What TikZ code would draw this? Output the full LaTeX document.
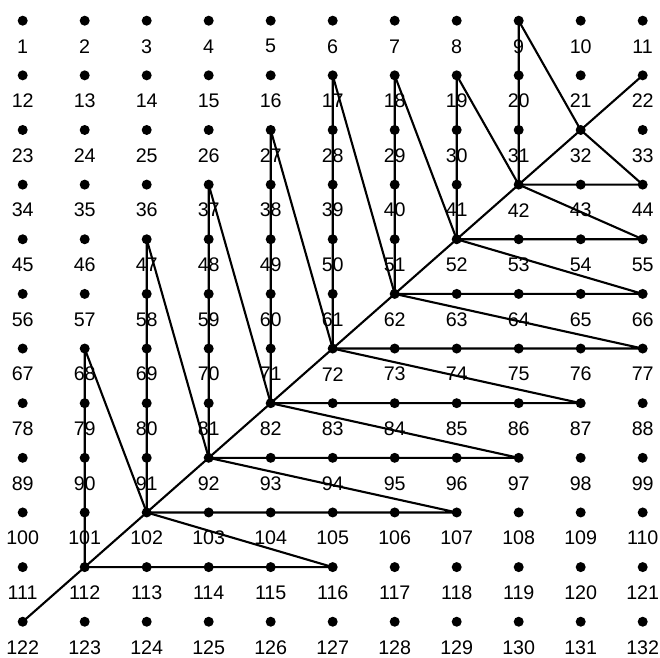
\documentclass[tikz,border=0pt]{standalone}
\usepackage{fontspec}
\setmainfont{Liberation Sans}
\usepackage{tikz}
\usetikzlibrary{positioning,calc}

\begin{document}
\begin{tikzpicture}[font=\fontsize{14}{16}\selectfont,
  dotnode/.style={circle,fill=black,inner sep=0pt,minimum size=0.25cm},
  numlabel/.style={inner sep=0pt,anchor=center},
  edge/.style={line width=1.5pt,line join=round}]

  \useasboundingbox (-0.5675,0.5175) rectangle (15.9325,-15.9325);

  % grid of numbered points, 11 columns x 12 rows
  \foreach \r in {0,...,11}{
    \foreach \c in {0,...,10}{
      \pgfmathtruncatemacro{\n}{11*\r+\c+1}
      \node[dotnode] (d\n) at (\c*1.55,-\r*1.366) {};
      \node[numlabel] (l\n) at ([yshift=-0.64cm]d\n.center) {\n};
    }
  }

  % main diagonal
  \draw[edge] (d122.center) -- (d22.center);

  % one quadrilateral per point of the diagonal: point/top/right/next
  \foreach \p/\t/\e/\q in {112/68/116/102, 102/47/107/92, 92/37/97/82,
                           82/27/87/72, 72/17/77/62, 62/18/66/52,
                           52/19/55/42, 42/9/44/32}{
    \draw[edge] (d\p.center) -- (d\t.center) -- (d\q.center)
                -- (d\e.center) -- cycle;
  }
\end{tikzpicture}
\end{document}
